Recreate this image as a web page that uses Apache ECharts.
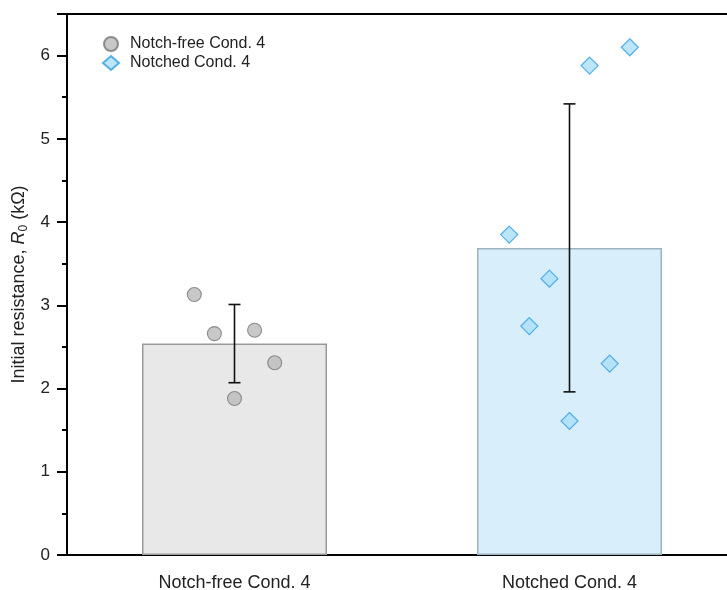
<!DOCTYPE html>
<html>
<head>
<meta charset="utf-8">
<script src="https://cdn.jsdelivr.net/npm/echarts@6/dist/echarts.min.js"></script>
<style>html,body{margin:0;padding:0;background:#fff}#c{width:727px;height:590px}</style>
</head>
<body>
<div id="c"></div>
<script>
const categories = ['Notch-free Cond. 4', 'Notched Cond. 4'];
const seriesNames = ['Notch-free Cond. 4', 'Notched Cond. 4'];
const means = [2.54, 3.69];
const sds = [0.47, 1.73];
const pointsNotchFree = [3.13, 2.66, 1.88, 2.70, 2.31];
const jitterNotchFree = [-0.12, -0.06, 0, 0.06, 0.12];
const pointsNotched = [3.85, 2.75, 3.32, 1.61, 5.88, 2.30, 6.10];
const jitterNotched = [-0.18, -0.12, -0.06, 0, 0.06, 0.12, 0.18];
const yTicks = [0, 1, 2, 3, 4, 5, 6];

const font = 'Liberation Sans, Arial, sans-serif';
const chart = echarts.init(document.getElementById('c'), null, {renderer: 'canvas'});

const errData = means.map((m, i) => [i, m - sds[i], m + sds[i]]);
const scatter1 = pointsNotchFree.map((v, i) => [0.5 + jitterNotchFree[i], v]);
const scatter2 = pointsNotched.map((v, i) => [1.5 + jitterNotched[i], v]);

chart.setOption({
  animation: false,
  textStyle: {fontFamily: font},
  grid: {left: 67, top: 14, width: 670, height: 541, outerBoundsMode: 'none', containLabel: false},
  legend: {
    left: 97, top: 31, orient: 'vertical', itemGap: 3, itemWidth: 16, itemHeight: 14,
    textStyle: {fontSize: 16, color: '#222', fontFamily: font, padding: [0, 0, 0, 6]},
    data: [{name: seriesNames[0], icon: 'circle'}, {name: seriesNames[1], icon: 'diamond'}]
  },
  xAxis: [{
    type: 'category', data: categories, position: 'bottom',
    axisLine: {lineStyle: {color: '#000', width: 2}},
    axisTick: {alignWithLabel: true, length: 10, lineStyle: {color: '#000', width: 2}},
    axisLabel: {fontSize: 18, color: '#222', margin: 19, fontFamily: font}
  }, {
    type: 'value', min: 0, max: 2, position: 'top',
    axisLine: {show: true, lineStyle: {color: '#000', width: 2}},
    axisTick: {show: false}, axisLabel: {show: false}, splitLine: {show: false}
  }],
  yAxis: {
    type: 'value', min: 0, max: 6.5, interval: 1,
    name: '{a|Initial resistance, }{i|R}{s|0}{a| (kΩ)}',
    nameLocation: 'middle', nameGap: 33, nameRotate: 90,
    nameTextStyle: {
      fontFamily: font, color: '#222',
      rich: {
        a: {fontSize: 18, fontFamily: font, color: '#222'},
        i: {fontSize: 18, fontFamily: font, fontStyle: 'italic', color: '#222'},
        s: {fontSize: 12, fontFamily: font, color: '#222', verticalAlign: 'bottom', padding: [9, 0, 0, 0]}
      }
    },
    axisLine: {show: true, lineStyle: {color: '#000', width: 2}},
    axisTick: {show: true, length: 10, lineStyle: {color: '#000', width: 2}},
    minorTick: {show: true, splitNumber: 2, length: 5, lineStyle: {color: '#000', width: 2}},
    axisLabel: {
      fontSize: 17, color: '#222', margin: 17, fontFamily: font,
      formatter: v => (yTicks.indexOf(v) >= 0 ? String(v) : '')
    },
    splitLine: {show: false}
  },
  series: [{
    type: 'bar', xAxisIndex: 0, barWidth: 185, z: 1,
    data: [
      {value: means[0], itemStyle: {color: '#e8e8e8', borderColor: '#9a9a9a', borderWidth: 1.5}},
      {value: means[1], itemStyle: {color: '#d8effb', borderColor: '#9cb2be', borderWidth: 1.5}}
    ]
  }, {
    type: 'custom', xAxisIndex: 0, z: 3,
    renderItem: function (params, api) {
      const x = api.value(0);
      const lo = api.coord([x, api.value(1)]);
      const hi = api.coord([x, api.value(2)]);
      const cap = 6;
      const st = {stroke: '#111', lineWidth: 1.6};
      return {type: 'group', children: [
        {type: 'line', shape: {x1: lo[0], y1: lo[1], x2: hi[0], y2: hi[1]}, style: st},
        {type: 'line', shape: {x1: lo[0] - cap, y1: lo[1], x2: lo[0] + cap, y2: lo[1]}, style: st},
        {type: 'line', shape: {x1: hi[0] - cap, y1: hi[1], x2: hi[0] + cap, y2: hi[1]}, style: st}
      ]};
    },
    data: errData
  }, {
    name: seriesNames[0], type: 'scatter', xAxisIndex: 1, symbol: 'circle', symbolSize: 14, z: 4,
    itemStyle: {color: '#bababa', borderColor: '#777777', borderWidth: 1.1},
    data: scatter1
  }, {
    name: seriesNames[1], type: 'scatter', xAxisIndex: 1, symbol: 'diamond', symbolSize: 17, z: 4,
    itemStyle: {color: '#abdef7', borderColor: '#2f9fe3', borderWidth: 1.2},
    data: scatter2
  }]
});
</script>
</body>
</html>
